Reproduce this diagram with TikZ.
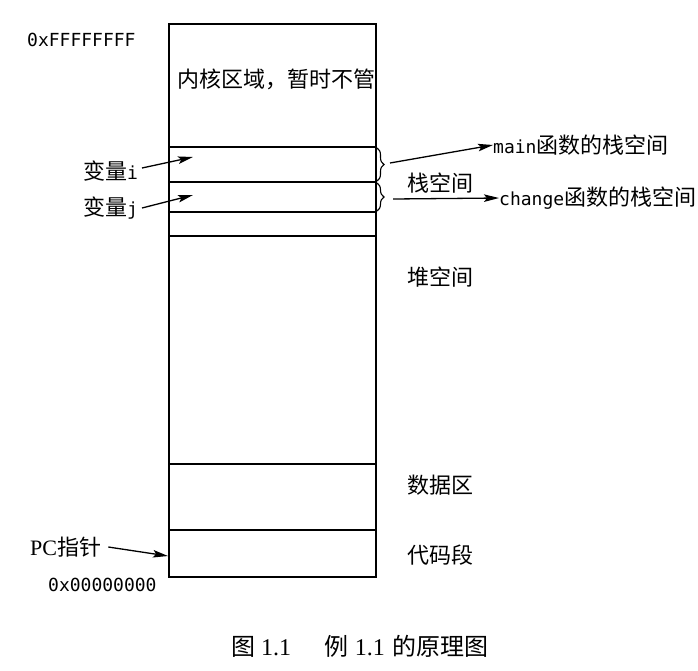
\documentclass[tikz,border=0pt]{standalone}
\usepackage{fontspec}
\setmainfont{Liberation Serif}
\setmonofont{DejaVu Sans Mono}
\newfontfamily\cjk{Noto Sans CJK SC}
\usetikzlibrary{arrows.meta,decorations.pathreplacing}
\newcommand{\mtt}[1]{{\fontsize{18}{20}\selectfont\ttfamily #1}}
\begin{document}
\begin{tikzpicture}[x=1pt,y=-1pt,
  box/.style={line width=1.6pt},
  sep/.style={line width=1.4pt},
  lbl/.style={inner sep=0pt,anchor=west,font=\fontsize{22}{24}\selectfont},
  mono/.style={inner sep=0pt,anchor=west,font=\fontsize{18}{20}\selectfont\ttfamily},
  ptr/.style={line width=1.3pt,-{Stealth[length=15pt,width=7.5pt,inset=3pt]}},
  brc/.style={line width=1.1pt,decorate,decoration={brace,amplitude=7pt}}]
\useasboundingbox (0,0) rectangle (698,670);
% memory column
\coordinate (tl) at (169,24);
\coordinate (br) at (376,577);
\draw[box] (tl) rectangle (br);
\foreach \yy/\nm in {147/a,182/b,212/c,236/d,464/e,530/f}{
  \draw[sep] (169,\yy) coordinate (L\nm) -- (376,\yy) coordinate (R\nm);
}
% texts
\node[mono] (top) at (27,40) {0xFFFFFFFF};
\node[mono] (bot) at (48,585) {0x00000000};
\node[lbl] (kernel) at (177,79) {\cjk 内核区域，暂时不管};
\node[lbl] (stack) at (407,183) {\cjk 栈空间};
\node[lbl] (heap) at (407,277) {\cjk 堆空间};
\node[lbl] (data) at (407,485) {\cjk 数据区};
\node[lbl] (code) at (407,555) {\cjk 代码段};
\node[lbl] (vi) at (83,171) {{\cjk 变量}\mtt{i}};
\node[lbl] (vj) at (83,208) {{\cjk 变量}\mtt{j}};
\node[lbl] (pc) at (30,547) {PC{\cjk 指针}};
\node[lbl] (mainsp) at (493,145) {\mtt{main}{\cjk 函数的栈空间}};
\node[lbl] (chgsp) at (499,198) {\mtt{change}{\cjk 函数的栈空间}};
\node[inner sep=0pt,anchor=west,font=\fontsize{24}{26}\selectfont] (cap) at (231,646) {{\cjk 图}\hspace{0.25em}1.1\hspace{1.4em}{\cjk 例}\hspace{0.25em}1.1\hspace{0.3em}{\cjk 的原理图}};
% braces
\draw[brc] (377,148) -- (377,181) coordinate[midway] (b1);
\draw[brc] (377,183) -- (377,211) coordinate[midway] (b2);
\coordinate (b1t) at (390,163);
\coordinate (b2t) at (393,199);
% pointers
\coordinate (ti) at (193,157);
\coordinate (tj) at (193,195);
\coordinate (tpc) at (168,556);
\draw[ptr] (142,168) -- (ti);
\draw[ptr] (142,208) -- (tj);
\draw[ptr] (pc.east) ++(7,0) -- (tpc);
\draw[ptr] (b1t) -- (mainsp.west);
\draw[ptr] (b2t) -- (chgsp.west);
\end{tikzpicture}
\end{document}
